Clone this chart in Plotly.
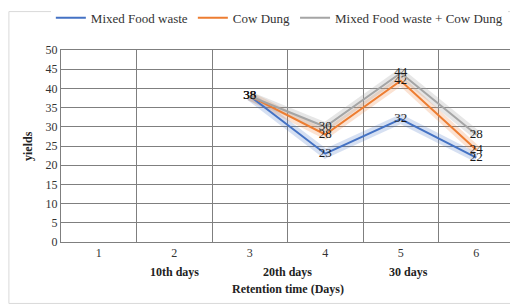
import plotly.graph_objects as go

categories = [1, 2, 3, 4, 5, 6]
food_waste = [None, None, 38, 23, 32, 22]
cow_dung = [None, None, 38, 28, 42, 24]
mixed = [None, None, 38, 30, 44, 28]
y_ticks = [0, 5, 10, 15, 20, 25, 30, 35, 40, 45, 50]
period_labels = ["10th days", "20th days", "30 days"]

FONT = "Liberation Serif, Times New Roman, serif"
series = [
    ("Mixed Food waste", food_waste, "#4472C4", "rgba(68,114,196,0.22)"),
    ("Cow Dung", cow_dung, "#ED7D31", "rgba(237,125,49,0.22)"),
    ("Mixed Food waste + Cow Dung", mixed, "#A5A5A5", "rgba(165,165,165,0.28)"),
]

W, H = 510, 297
L, R, T, B = 53, 4, 42, 63
PW = W - L - R

fig = go.Figure()
for name, vals, col, glow in series:
    fig.add_trace(go.Scatter(x=categories, y=vals, mode="lines",
                             line=dict(color=glow, width=9),
                             showlegend=False, hoverinfo="skip"))
for name, vals, col, glow in series:
    fig.add_trace(go.Scatter(x=categories, y=vals, mode="lines+text", name=name,
                             line=dict(color=col, width=2),
                             text=[None if v is None else str(v) for v in vals],
                             textposition="middle center",
                             textfont=dict(family=FONT, size=13, color="#1a1a1a")))

fig.update_layout(
    width=W, height=H,
    margin=dict(l=L, r=R, t=T, b=B, autoexpand=False),
    paper_bgcolor="white", plot_bgcolor="white",
    font=dict(family=FONT, size=12, color="#333333"),
    legend=dict(orientation="h", x=0.482, xanchor="center", y=1.09, yanchor="bottom",
                font=dict(family=FONT, size=13, color="#333333"),
                tracegroupgap=0),
    showlegend=True,
)
fig.update_xaxes(range=[0.5, 6.5], tickvals=categories, ticktext=[str(c) for c in categories],
                 showgrid=False, zeroline=False, ticks="", ticklen=0, automargin=False,
                 showline=True, linecolor="#7f7f7f", linewidth=1, mirror=True,
                 minor=dict(tickvals=[0.5, 1.5, 2.5, 3.5, 4.5, 5.5, 6.5], showgrid=True,
                            gridcolor="#7f7f7f", gridwidth=1),
                 tickfont=dict(family=FONT, size=12, color="#333333"))
fig.update_yaxes(range=[0, 50], tickvals=y_ticks, showgrid=True, gridcolor="#7f7f7f",
                 gridwidth=1, zeroline=False, showline=True, linecolor="#7f7f7f", mirror=True,
                 automargin=False, ticks="", ticklen=0,
                 tickfont=dict(family=FONT, size=12, color="#333333"))

fig.add_annotation(x=(20 - L) / PW, xref="paper", y=0.5, yref="paper",
                   text="<b>yields</b>", textangle=-90, showarrow=False,
                   xanchor="center", font=dict(family=FONT, size=12, color="#222222"))

xs = [2.0, 3.5, 5.1]
for lab, xv in zip(period_labels, xs):
    fig.add_annotation(x=xv, xref="x", y=-0.205, yref="paper", text="<b>" + lab + "</b>",
                       showarrow=False, font=dict(family=FONT, size=12, color="#222222"))
fig.add_annotation(x=3.5, xref="x", y=-0.29, yref="paper", text="<b>Retention time (Days)</b>",
                   showarrow=False, font=dict(family=FONT, size=12, color="#222222"))

fig.add_shape(type="rect", xref="paper", yref="paper", x0=-0.115, x1=1.007, y0=-0.32, y1=1.2,
              line=dict(color="#d9d9d9", width=1))

fig.write_html("out.html")
